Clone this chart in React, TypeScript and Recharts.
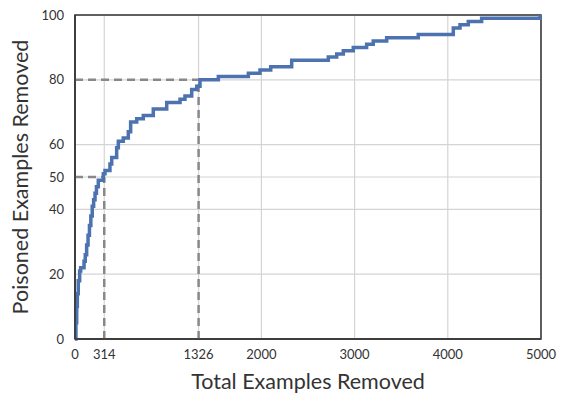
import { LineChart, Line, XAxis, YAxis, CartesianGrid, ReferenceLine, ReferenceArea } from 'recharts';

// total examples removed (x) vs poisoned examples removed (%)
const totalRemoved = [
  0, 10, 18, 25, 35, 50, 61, 97, 110, 125, 140, 155, 170, 185, 200, 215, 230, 250, 304, 322, 375, 394,
  447, 465, 518, 572, 597, 662, 733, 840, 984, 1127, 1180, 1252, 1306, 1341, 1538, 1860, 1985, 2100,
  2325, 2718, 2808, 2879, 2986, 3129, 3200, 3344, 3683, 4059, 4131, 4220, 4363, 4990,
];
const poisonedRemoved = [
  0, 5, 10, 14, 18, 21, 22, 24, 26, 29, 32, 35, 38, 41, 43, 45, 47, 49, 51, 52, 54, 56,
  59, 61, 62, 64, 67, 68, 69, 71, 73, 74, 75, 77, 78, 80, 81, 82, 83, 84,
  86, 87, 88, 89, 90, 91, 92, 93, 94, 96, 97, 98, 99, 100,
];

const xTicks = [0, 314, 1326, 2000, 3000, 4000, 5000];
const yTicks = [0, 20, 40, 50, 60, 80, 100];

// thresholds marked with dashed lines
const markX = [314, 1326];
const markY = [50, 80];

const data = totalRemoved.map((x, i) => ({ x, y: poisonedRemoved[i] }));

const FONT = 'Lato, "DejaVu Sans", sans-serif';

export default function App() {
  return (
    <div style={{ position: 'absolute', left: 0, top: 0, fontFamily: FONT }}>
      <LineChart width={564} height={395} data={data} margin={{ top: 15, right: 23, bottom: 0, left: 0 }}>
        <CartesianGrid stroke="#d4d4d4" strokeWidth={1.2} horizontalValues={yTicks} verticalValues={xTicks} />
        <XAxis
          dataKey="x"
          type="number"
          domain={[0, 5000]}
          ticks={xTicks}
          height={56}
          tickLine={false}
          tickSize={0}
          tickMargin={11}
          axisLine={{ stroke: '#333', strokeWidth: 1.5 }}
          tick={{ fill: '#333', fontSize: 13, fontFamily: FONT }}
          label={{ value: 'Total Examples Removed', position: 'insideBottom', offset: 6, fill: '#333', fontSize: 21.5, fontFamily: FONT }}
        />
        <YAxis
          type="number"
          domain={[0, 100]}
          ticks={yTicks}
          width={75}
          tickLine={false}
          tickSize={0}
          tickMargin={11}
          axisLine={{ stroke: '#333', strokeWidth: 1.5 }}
          tick={{ fill: '#333', fontSize: 13, fontFamily: FONT }}
          label={{ value: 'Poisoned Examples Removed', angle: -90, position: 'insideLeft', offset: 20, fill: '#333', fontSize: 21.5, fontFamily: FONT, style: { textAnchor: 'middle' } }}
        />
        <ReferenceArea x1={0} x2={5000} y1={0} y2={100} fill="none" stroke="#333" strokeWidth={1.5} />
        {markX.map((mx, i) => (
          <ReferenceLine key={`h${i}`} segment={[{ x: 0, y: markY[i] }, { x: mx, y: markY[i] }]} stroke="#888" strokeWidth={2.5} strokeDasharray="8 5" />
        ))}
        {markX.map((mx, i) => (
          <ReferenceLine key={`v${i}`} segment={[{ x: mx, y: 0 }, { x: mx, y: markY[i] }]} stroke="#888" strokeWidth={2.5} strokeDasharray="8 5" />
        ))}
        <Line type="stepAfter" dataKey="y" stroke="#4c72b0" strokeWidth={3.5} dot={false} isAnimationActive={false} />
      </LineChart>
    </div>
  );
}
